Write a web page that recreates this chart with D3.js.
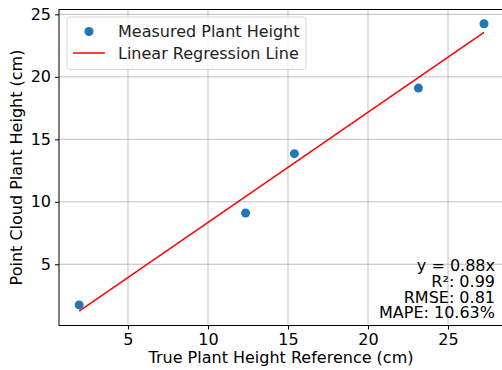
<!DOCTYPE html>
<html>
<head>
<meta charset="utf-8">
<script src="https://d3js.org/d3.v7.min.js"></script>
<style>
body { margin: 0; background: #fff; font-family: "DejaVu Sans", sans-serif; }
.grid line { stroke: #b0b0b0; stroke-width: 0.8; }
</style>
</head>
<body>
<div id="chart"></div>
<script>
var trueHeight = [1.95, 12.35, 15.4, 23.15, 27.25];
var cloudHeight = [1.75, 9.1, 13.85, 19.1, 24.25];
var fitX = [1.95, 27.25];
var fitY = [1.25, 23.55];
var xTicks = [5, 10, 15, 20, 25];
var yTicks = [5, 10, 15, 20, 25];
var stats = ["y = 0.88x", "R²: 0.99", "RMSE: 0.81", "MAPE: 10.63%"];

var W = 502, H = 370;
var m = {left: 59, top: 9.5, right: 504, bottom: 325.5};

var svg = d3.select("#chart").append("svg")
  .attr("width", W).attr("height", H);

var x = d3.scaleLinear().domain([0.69, 28.5]).range([m.left, m.right]);
var y = d3.scaleLinear().domain([0.1, 25.39]).range([m.bottom, m.top]);

// grid
var g = svg.append("g").attr("class", "grid");
g.selectAll(".vx").data(xTicks).enter().append("line")
  .attr("x1", d => x(d)).attr("x2", d => x(d))
  .attr("y1", m.top).attr("y2", m.bottom);
g.selectAll(".hy").data(yTicks).enter().append("line")
  .attr("y1", d => y(d)).attr("y2", d => y(d))
  .attr("x1", m.left).attr("x2", m.right);

// axes
var xAxis = svg.append("g")
  .attr("transform", "translate(0," + m.bottom + ")")
  .call(d3.axisBottom(x).tickValues(xTicks).tickSize(4).tickPadding(4));
var yAxis = svg.append("g")
  .attr("transform", "translate(" + m.left + ",0)")
  .call(d3.axisLeft(y).tickValues(yTicks).tickSize(4).tickPadding(4));
[xAxis, yAxis].forEach(function(a) {
  a.select(".domain").remove();
  a.selectAll("text").attr("font-family", "DejaVu Sans").attr("font-size", 16).attr("fill", "#000");
  a.selectAll("line").attr("stroke", "#000");
});

// frame
svg.append("rect")
  .attr("x", m.left).attr("y", m.top)
  .attr("width", m.right - m.left).attr("height", m.bottom - m.top)
  .attr("fill", "none").attr("stroke", "#000").attr("stroke-width", 1);

// regression line
svg.append("path")
  .datum(d3.zip(fitX, fitY))
  .attr("fill", "none").attr("stroke", "red").attr("stroke-width", 1.5)
  .attr("d", d3.line().x(d => x(d[0])).y(d => y(d[1])));

// points
svg.selectAll(".pt").data(d3.zip(trueHeight, cloudHeight)).enter().append("circle")
  .attr("cx", d => x(d[0])).attr("cy", d => y(d[1])).attr("r", 4.5)
  .attr("fill", "#1f77b4");

// legend
var lg = svg.append("g");
lg.append("rect").attr("x", 67).attr("y", 17).attr("width", 239).attr("height", 52.5)
  .attr("rx", 3).attr("fill", "#fff").attr("fill-opacity", 0.8)
  .attr("stroke", "#d6d6d6");
lg.append("circle").attr("cx", 89).attr("cy", 31.5).attr("r", 4.5).attr("fill", "#1f77b4");
lg.append("line").attr("x1", 73).attr("x2", 105).attr("y1", 53).attr("y2", 53)
  .attr("stroke", "red").attr("stroke-width", 1.5);
lg.append("text").attr("x", 118).attr("y", 37).text("Measured Plant Height")
  .attr("font-size", 16).attr("fill", "#222");
lg.append("text").attr("x", 118).attr("y", 59).text("Linear Regression Line")
  .attr("font-size", 16).attr("fill", "#222");

// stats
svg.selectAll(".st").data(stats).enter().append("text")
  .attr("x", 495).attr("y", (d, i) => 271 + i * 15.8)
  .attr("text-anchor", "end").attr("font-size", 16).attr("fill", "#000")
  .text(d => d);

// axis labels
svg.append("text").attr("x", 281).attr("y", 363)
  .attr("text-anchor", "middle").attr("font-size", 16).text("True Plant Height Reference (cm)");
svg.append("text").attr("transform", "translate(22,167.5) rotate(-90)")
  .attr("text-anchor", "middle").attr("font-size", 16).text("Point Cloud Plant Height (cm)");
</script>
</body>
</html>
